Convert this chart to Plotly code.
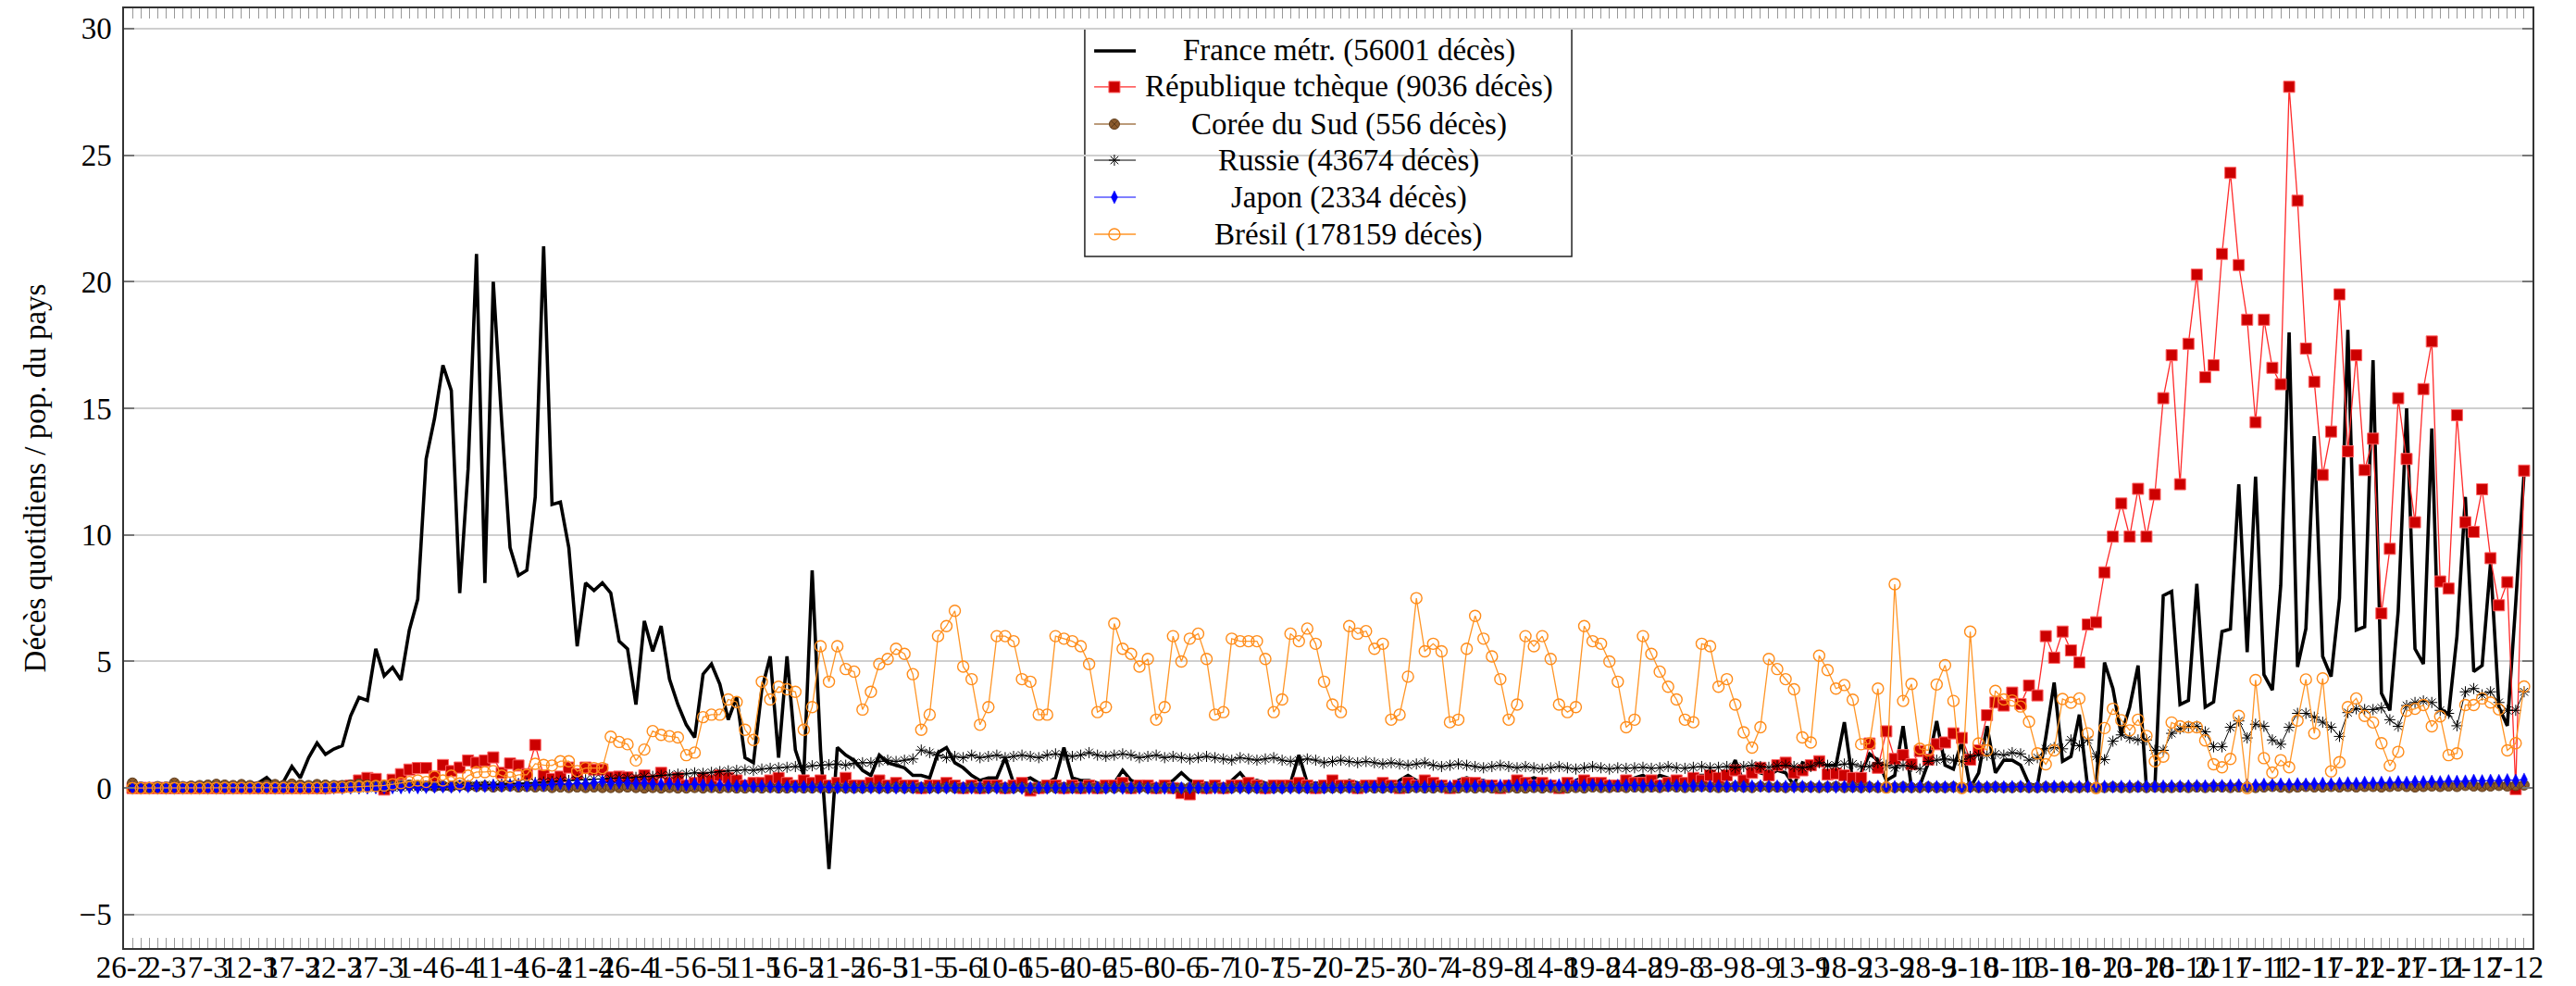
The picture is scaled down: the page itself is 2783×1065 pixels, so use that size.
import plotly.graph_objects as go

# ---- categories (day index; 0 = 26-2) and tick labels ----
days = list(range(1, 287))
tick_pos = list(range(0, 286, 5))
tick_labels = ["26-2", "2-3", "7-3", "12-3", "17-3", "22-3", "27-3", "1-4", "6-4", "11-4",
               "16-4", "21-4", "26-4", "1-5", "6-5", "11-5", "16-5", "21-5", "26-5", "31-5",
               "5-6", "10-6", "15-6", "20-6", "25-6", "30-6", "5-7", "10-7", "15-7", "20-7",
               "25-7", "30-7", "4-8", "9-8", "14-8", "19-8", "24-8", "29-8", "3-9", "8-9",
               "13-9", "18-9", "23-9", "28-9", "3-10", "8-10", "13-10", "18-10", "23-10", "28-10",
               "2-11", "7-11", "12-11", "17-11", "22-11", "27-11", "2-12", "7-12"]

france = [
    0, 0, 0, 0, 0, 0, 0, 0, 0.02, 0.02,
    0.03, 0.05, 0.05, 0.1, 0.15, 0.2, 0.42, 0.1, 0.25, 0.85,
    0.4, 1.2, 1.78, 1.33, 1.54, 1.67, 2.85, 3.58, 3.46, 5.5,
    4.43, 4.77, 4.27, 6.25, 7.46, 13.0, 14.6, 16.7, 15.7, 7.7,
    12.6, 21.1, 8.1, 20.0, 14.5, 9.5, 8.4, 8.6, 11.5, 21.4,
    11.2, 11.3, 9.5, 5.6, 8.1, 7.8, 8.1, 7.7, 5.8, 5.5,
    3.3, 6.6, 5.4, 6.4, 4.3, 3.3, 2.5, 2.0, 4.5, 4.9,
    4.1, 2.7, 3.6, 1.2, 1.0, 3.9, 5.2, 1.2, 5.2, 1.5,
    0.5, 8.6, 1.5, -3.2, 1.6, 1.3, 1.1, 0.7, 0.5, 1.3,
    1.0, 0.9, 0.8, 0.5, 0.5, 0.4, 1.4, 1.6, 1.0, 0.8,
    0.5, 0.3, 0.4, 0.4, 1.2, 0.2, 0.3, 0.4, 0.2, 0.2,
    0.4, 1.6, 0.4, 0.3, 0.3, 0.2, 0.1, 0.2, 0.7, 0.3,
    0.2, 0.2, 0.1, 0.1, 0.3, 0.6, 0.3, 0.2, 0.2, 0.1,
    0.0, 0.3, 0.6, 0.2, 0.3, 0.2, 0.1, 0.1, 0.2, 1.3,
    0.2, 0.2, 0.2, 0.0, 0.1, 0.3, 0.2, 0.2, 0.2, 0.1,
    0.0, 0.3, 0.5, 0.3, 0.2, 0.2, 0.1, 0.0, 0.3, 0.4,
    0.3, 0.3, 0.2, 0.1, 0.0, 0.3, 0.3, 0.4, 0.3, 0.2,
    0.1, 0.0, 0.3, 0.4, 0.3, 0.3, 0.2, 0.1, 0.0, 0.4,
    0.5, 0.3, 0.5, 0.4, 0.1, 0.1, 0.5, 0.5, 0.5, 0.4,
    0.4, 1.1, 0.2, 0.7, 0.6, 0.5, 0.7, 0.6, 0.1, 1.0,
    0.9, 0.9, 0.9, 0.9, 2.6, 0.25, 0.6, 1.35, 1.1, 0.3,
    0.5, 2.45, 0.0, 0.1, 1.0, 2.65, 0.9, 0.75, 1.85, 0.0,
    0.6, 2.45, 0.6, 1.1, 1.1, 0.9, 0.15, 0.1, 2.0, 4.17,
    1.06, 1.25, 2.9, 0.0, 0.0, 4.96, 3.93, 2.1, 3.2, 4.84,
    0.0, 0.0, 7.6, 7.77, 3.3, 3.46, 8.07, 3.2, 3.4, 6.18,
    6.28, 12.0, 5.37, 12.3, 4.48, 3.87, 8.0, 18.0, 4.78, 6.3,
    13.9, 5.2, 4.4, 7.5, 18.1, 6.24, 6.37, 16.9, 3.74, 3.07,
    7.0, 15.0, 5.5, 4.9, 14.2, 3.13, 2.9, 6.0, 11.5, 4.6,
    4.84, 8.9, 3.2, 2.46, 7.3, 12.46]

czech = [
    0, 0, 0, 0, 0, 0, 0, 0, 0, 0,
    0, 0, 0, 0, 0, 0, 0, 0, 0, 0,
    0, 0, 0, 0, 0.02, 0.05, 0.1, 0.3, 0.4, 0.36,
    -0.06, 0.33, 0.55, 0.73, 0.79, 0.79, 0.45, 0.91, 0.67, 0.81,
    1.09, 1.0, 1.09, 1.21, 0.6, 0.97, 0.89, 0.55, 1.7, 0.49,
    0.36, 0.45, 0.81, 0.55, 0.81, 0.73, 0.73, 0.42, 0.45, 0.42,
    0.3, 0.5, 0.3, 0.6, 0.2, 0.4, 0.1, 0.2, 0.4, 0.3,
    0.5, 0.4, 0.3, 0.1, 0.2, 0.2, 0.3, 0.4, 0.2, 0.1,
    0.3, 0.2, 0.3, 0.1, 0.2, 0.4, 0.1, 0.1, 0.2, 0.3,
    0.1, 0.2, 0.1, 0.1, 0.0, 0.1, 0.1, 0.2, 0.1, 0.0,
    0.1, 0.0, 0.1, 0.1, 0.0, 0.1, 0.2, -0.1, 0.0, 0.1,
    0.1, 0.0, 0.1, 0.0, 0.1, 0.0, 0.1, 0.1, 0.2, 0.0,
    0.1, 0.1, 0.0, 0.1, 0.0, -0.2, -0.25, 0.1, 0.0, 0.1,
    0.0, 0.1, 0.1, 0.2, 0.1, 0.0, 0.1, 0.1, 0.1, 0.2,
    0.1, 0.0, 0.1, 0.3, 0.1, 0.1, 0.0, 0.1, 0.1, 0.2,
    0.1, 0.0, 0.2, 0.1, 0.3, 0.2, 0.1, 0.0, 0.1, 0.2,
    0.2, 0.1, 0.1, 0.0, 0.1, 0.3, 0.2, 0.1, 0.2, 0.1,
    0.0, 0.2, 0.1, 0.3, 0.2, 0.2, 0.1, 0.1, 0.3, 0.2,
    0.2, 0.3, 0.1, 0.2, 0.3, 0.2, 0.4, 0.3, 0.5, 0.4,
    0.5, 0.7, 0.3, 0.6, 0.8, 0.5, 0.9, 1.0, 0.6, 0.7,
    0.9, 1.06, 0.54, 0.57, 0.5, 0.4, 0.4, 1.76, 0.8, 2.24,
    1.15, 1.3, 0.94, 1.46, 1.12, 1.73, 1.8, 2.16, 1.98, 1.12,
    1.49, 2.88, 3.38, 3.26, 3.77, 3.32, 4.05, 3.66, 6.0, 5.15,
    6.18, 5.44, 4.96, 6.46, 6.55, 8.52, 9.93, 11.24, 9.93, 11.82,
    9.93, 11.6, 15.4, 17.1, 12.0, 17.55, 20.28, 16.23, 16.7, 21.1,
    24.3, 20.66, 18.5, 14.45, 18.5, 16.6, 15.95, 27.7, 23.2, 17.36,
    16.05, 12.37, 14.08, 19.5, 13.3, 17.1, 12.56, 13.8, 6.9, 9.45,
    15.4, 13.0, 10.5, 15.76, 17.64, 8.16, 7.88, 14.73, 10.5, 10.12,
    11.8, 9.08, 7.22, 8.13, -0.04, 12.54]

korea = [
    0.2, 0.04, 0.02, 0.06, 0.04, 0.2, 0.06, 0.08, 0.1, 0.12,
    0.15, 0.12, 0.1, 0.14, 0.1, 0.06, 0.12, 0.14, 0.1, 0.16,
    0.12, 0.1, 0.14, 0.12, 0.1, 0.1, 0.12, 0.16, 0.12, 0.1,
    0.1, 0.08, 0.1, 0.12, 0.1, 0.08, 0.06, 0.08, 0.06, 0.1,
    0.08, 0.06, 0.08, 0.04, 0.06, 0.08, 0.04, 0.06, 0.04, 0.06,
    0.02, 0.04, 0.02, 0.04, 0.02, 0.04, 0.02, 0.02, 0.02, 0.04,
    0.02, 0.0, 0.02, 0.0, 0.02, 0.0, 0.0, 0.02, 0.0, 0.02,
    0.0, 0.02, 0.0, 0.0, 0.02, 0.0, 0.02, 0.0, 0.0, 0.02,
    0.0, 0.0, 0.02, 0.0, 0.02, 0.0, 0.0, 0.0, 0.02, 0.0,
    0.0, 0.02, 0.0, 0.0, 0.02, 0.0, 0.0, 0.02, 0.0, 0.0,
    0.02, 0.0, 0.0, 0.02, 0.0, 0.0, 0.02, 0.0, 0.02, 0.0,
    0.0, 0.02, 0.0, 0.0, 0.02, 0.0, 0.0, 0.0, 0.02, 0.0,
    0.02, 0.0, 0.0, 0.02, 0.0, 0.0, 0.02, 0.0, 0.0, 0.02,
    0.0, 0.0, 0.02, 0.0, 0.0, 0.02, 0.0, 0.0, 0.02, 0.0,
    0.0, 0.02, 0.0, 0.0, 0.0, 0.02, 0.0, 0.02, 0.0, 0.0,
    0.02, 0.0, 0.0, 0.02, 0.0, 0.0, 0.02, 0.0, 0.0, 0.02,
    0.0, 0.02, 0.0, 0.0, 0.02, 0.0, 0.0, 0.02, 0.0, 0.02,
    0.0, 0.0, 0.02, 0.0, 0.04, 0.02, 0.02, 0.04, 0.02, 0.04,
    0.02, 0.04, 0.02, 0.06, 0.04, 0.02, 0.04, 0.06, 0.04, 0.02,
    0.04, 0.06, 0.04, 0.02, 0.06, 0.04, 0.04, 0.02, 0.06, 0.04,
    0.04, 0.02, 0.04, 0.06, 0.02, 0.04, 0.02, 0.04, 0.02, 0.04,
    0.02, 0.04, 0.02, 0.02, 0.04, 0.02, 0.02, 0.04, 0.02, 0.04,
    0.02, 0.02, 0.04, 0.02, 0.02, 0.04, 0.02, 0.02, 0.04, 0.02,
    0.04, 0.02, 0.02, 0.04, 0.02, 0.02, 0.04, 0.02, 0.02, 0.04,
    0.02, 0.04, 0.02, 0.02, 0.04, 0.02, 0.04, 0.02, 0.04, 0.04,
    0.02, 0.04, 0.04, 0.02, 0.04, 0.06, 0.04, 0.02, 0.04, 0.06,
    0.04, 0.04, 0.06, 0.04, 0.06, 0.04, 0.06, 0.06, 0.04, 0.06,
    0.08, 0.06, 0.04, 0.06, 0.08, 0.06, 0.08, 0.06, 0.1, 0.08,
    0.06, 0.08, 0.1, 0.08, 0.1, 0.12]

russia = [
    0, 0, 0, 0, 0, 0, 0, 0, 0, 0,
    0, 0, 0, 0, 0, 0, 0, 0, 0, 0,
    0, 0, 0, 0, 0, 0, 0, 0, 0, 0.01,
    0.01, 0.02, 0.02, 0.03, 0.03, 0.04, 0.05, 0.05, 0.06, 0.08,
    0.09, 0.1, 0.12, 0.13, 0.15, 0.17, 0.18, 0.2, 0.22, 0.24,
    0.26, 0.28, 0.3, 0.32, 0.33, 0.35, 0.36, 0.38, 0.4, 0.4,
    0.42, 0.45, 0.46, 0.5, 0.52, 0.55, 0.56, 0.6, 0.58, 0.62,
    0.65, 0.68, 0.7, 0.72, 0.7, 0.75, 0.78, 0.8, 0.82, 0.85,
    0.82, 0.88, 0.9, 0.92, 0.95, 0.9, 0.98, 1.0, 1.0, 1.05,
    1.1, 1.05, 1.1, 1.15, 1.5, 1.4, 1.3, 1.2, 1.25, 1.2,
    1.3, 1.2, 1.25, 1.3, 1.2, 1.25, 1.3, 1.25, 1.2, 1.3,
    1.35, 1.3, 1.25, 1.3, 1.4, 1.3, 1.25, 1.3, 1.35, 1.3,
    1.2, 1.25, 1.3, 1.2, 1.25, 1.2, 1.15, 1.2, 1.25, 1.2,
    1.15, 1.1, 1.2, 1.15, 1.1, 1.15, 1.2, 1.1, 1.05, 1.1,
    1.15, 1.1, 1.0, 1.05, 1.1, 1.05, 1.0, 1.05, 1.0, 0.95,
    1.0, 0.95, 0.9, 0.95, 1.0, 0.9, 0.85, 0.9, 0.95, 0.9,
    0.85, 0.8, 0.85, 0.9, 0.85, 0.8, 0.85, 0.8, 0.75, 0.8,
    0.85, 0.8, 0.75, 0.8, 0.85, 0.8, 0.75, 0.8, 0.78, 0.8,
    0.82, 0.78, 0.8, 0.85, 0.8, 0.78, 0.82, 0.85, 0.8, 0.82,
    0.85, 0.8, 0.85, 0.9, 0.85, 0.82, 0.88, 0.9, 0.85, 0.8,
    0.85, 1.0, 0.9, 0.9, 0.95, 0.95, 0.85, 0.85, 1.0, 0.9,
    0.8, 0.9, 0.85, 0.75, 1.05, 1.1, 1.15, 1.1, 1.05, 1.25,
    1.3, 1.3, 1.35, 1.3, 1.4, 1.35, 1.1, 1.2, 1.55, 1.6,
    1.55, 1.9, 1.67, 1.9, 1.24, 1.12, 1.85, 2.1, 1.98, 1.9,
    1.9, 1.49, 1.49, 2.16, 2.34, 2.44, 2.44, 2.22, 1.63, 1.63,
    2.4, 2.65, 1.98, 2.52, 2.44, 1.9, 1.73, 2.4, 2.95, 2.95,
    2.8, 2.6, 2.4, 2.04, 2.98, 3.13, 3.1, 3.1, 3.17, 2.7,
    2.44, 3.26, 3.38, 3.44, 3.38, 3.07, 2.95, 2.46, 3.8, 3.93,
    3.68, 3.8, 3.38, 3.07, 3.07, 3.8]

japan = [
    0, 0, 0, 0, 0, 0, 0, 0, 0, 0,
    0, 0, 0, 0, 0, 0, 0, 0, 0, 0,
    0, 0, 0, 0, 0.01, 0, 0.01, 0.01, 0.01, 0.02,
    0.01, 0.02, 0.02, 0.03, 0.02, 0.03, 0.04, 0.05, 0.04, 0.06,
    0.06, 0.08, 0.07, 0.1, 0.08, 0.1, 0.12, 0.1, 0.14, 0.12,
    0.15, 0.18, 0.14, 0.2, 0.16, 0.2, 0.25, 0.18, 0.22, 0.2,
    0.18, 0.2, 0.16, 0.15, 0.18, 0.14, 0.12, 0.16, 0.12, 0.1,
    0.12, 0.1, 0.08, 0.1, 0.06, 0.08, 0.06, 0.05, 0.06, 0.04,
    0.05, 0.04, 0.03, 0.04, 0.02, 0.03, 0.02, 0.02, 0.02, 0.01,
    0.02, 0.01, 0.01, 0.02, 0.01, 0.01, 0.01, 0.01, 0.01, 0.01,
    0.01, 0.01, 0.01, 0.01, 0.01, 0.01, 0.0, 0.01, 0.01, 0.0,
    0.01, 0.0, 0.01, 0.01, 0.0, 0.01, 0.0, 0.01, 0.0, 0.01,
    0.01, 0.0, 0.01, 0.0, 0.01, 0.0, 0.01, 0.01, 0.0, 0.01,
    0.0, 0.01, 0.01, 0.0, 0.01, 0.0, 0.01, 0.0, 0.01, 0.01,
    0.01, 0.02, 0.01, 0.02, 0.02, 0.03, 0.02, 0.03, 0.04, 0.03,
    0.04, 0.05, 0.04, 0.06, 0.05, 0.06, 0.07, 0.06, 0.08, 0.07,
    0.08, 0.09, 0.08, 0.1, 0.09, 0.1, 0.12, 0.1, 0.09, 0.1,
    0.12, 0.1, 0.11, 0.1, 0.12, 0.1, 0.09, 0.1, 0.11, 0.1,
    0.09, 0.1, 0.08, 0.09, 0.1, 0.08, 0.09, 0.08, 0.07, 0.08,
    0.07, 0.08, 0.06, 0.07, 0.08, 0.06, 0.07, 0.06, 0.05, 0.06,
    0.05, 0.06, 0.05, 0.04, 0.06, 0.05, 0.04, 0.05, 0.06, 0.04,
    0.05, 0.04, 0.05, 0.06, 0.04, 0.05, 0.04, 0.05, 0.04, 0.05,
    0.06, 0.04, 0.05, 0.04, 0.05, 0.06, 0.05, 0.04, 0.05, 0.06,
    0.05, 0.06, 0.05, 0.06, 0.07, 0.06, 0.05, 0.06, 0.07, 0.06,
    0.07, 0.06, 0.07, 0.08, 0.07, 0.08, 0.09, 0.08, 0.1, 0.09,
    0.1, 0.12, 0.11, 0.12, 0.14, 0.13, 0.15, 0.14, 0.16, 0.15,
    0.17, 0.18, 0.16, 0.18, 0.2, 0.18, 0.22, 0.2, 0.22, 0.21,
    0.24, 0.22, 0.25, 0.24, 0.26, 0.24, 0.28, 0.26, 0.27, 0.3,
    0.28, 0.3, 0.29, 0.32, 0.3, 0.34]

bresil = [
    0, 0, 0, 0, 0, 0, 0, 0, 0, 0,
    0, 0, 0, 0, 0, 0, 0, 0, 0, 0,
    0.0, 0.0, 0.0, 0.01, 0.02, 0.02, 0.04, 0.05, 0.06, 0.08,
    0.1, 0.15, 0.2, 0.24, 0.3, 0.24, 0.45, 0.3, 0.49, 0.18,
    0.49, 0.63, 0.63, 0.67, 0.49, 0.42, 0.52, 0.52, 0.96, 0.91,
    0.89, 1.06, 1.06, 0.67, 0.79, 0.79, 0.79, 2.03, 1.82, 1.73,
    1.09, 1.52, 2.25, 2.1, 2.05, 2.0, 1.3, 1.4, 2.8, 2.9,
    2.9, 3.5, 3.4, 2.3, 1.9, 4.2, 3.5, 4.0, 3.9, 3.8,
    2.3, 3.2, 5.6, 4.2, 5.6, 4.7, 4.6, 3.1, 3.8, 4.9,
    5.1, 5.5, 5.3, 4.5, 2.3, 2.9, 6.0, 6.4, 7.0, 4.8,
    4.3, 2.5, 3.2, 6.0, 6.0, 5.8, 4.3, 4.2, 2.9, 2.9,
    6.0, 5.9, 5.8, 5.6, 4.9, 3.0, 3.2, 6.5, 5.5, 5.3,
    4.8, 5.1, 2.7, 3.2, 6.0, 5.0, 5.9, 6.1, 5.1, 2.9,
    3.0, 5.9, 5.8, 5.8, 5.8, 5.1, 3.0, 3.5, 6.1, 5.8,
    6.3, 5.7, 4.2, 3.3, 3.0, 6.4, 6.1, 6.2, 5.5, 5.7,
    2.7, 2.9, 4.4, 7.5, 5.4, 5.7, 5.4, 2.6, 2.7, 5.5,
    6.8, 5.9, 5.2, 4.3, 2.7, 3.3, 6.0, 5.6, 6.0, 5.1,
    3.3, 3.0, 3.2, 6.4, 5.8, 5.7, 5.0, 4.2, 2.4, 2.7,
    6.0, 5.3, 4.6, 4.0, 3.5, 2.7, 2.6, 5.7, 5.6, 4.0,
    4.3, 3.3, 2.2, 1.6, 2.4, 5.1, 4.7, 4.3, 3.9, 2.0,
    1.8, 5.23, 4.66, 3.93, 4.07, 3.49, 1.73, 1.76, 3.93, 0.02,
    8.05, 3.44, 4.11, 1.55, 1.49, 4.09, 4.85, 3.44, 0.0, 6.18,
    1.76, 1.49, 3.84, 3.5, 3.46, 3.22, 2.62, 1.37, 0.94, 1.49,
    3.52, 3.37, 3.54, 2.16, 0.0, 2.37, 3.13, 2.68, 2.28, 2.7,
    2.06, 1.06, 1.24, 2.59, 2.44, 2.4, 2.4, 1.88, 0.94, 0.82,
    1.15, 2.85, 0.0, 4.27, 1.18, 0.61, 1.1, 0.82, 2.67, 4.29,
    2.16, 4.33, 0.66, 1.02, 3.2, 3.54, 2.85, 2.59, 1.77, 0.88,
    1.43, 3.05, 3.13, 3.28, 2.44, 2.83, 1.3, 1.37, 3.28, 3.28,
    3.54, 3.38, 3.11, 1.49, 1.77, 4.01]

names = ["France métr. (56001 décès)", "République tchèque (9036 décès)",
         "Corée du Sud (556 décès)", "Russie (43674 décès)",
         "Japon (2334 décès)", "Brésil (178159 décès)"]
values = [france, czech, korea, russia, japan, bresil]

lines = [dict(color="black", width=3.6),
         dict(color="#ff2a2a", width=1.3),
         dict(color="#a47a4e", width=1.5),
         dict(color="black", width=1),
         dict(color="#0000ff", width=1.2),
         dict(color="#ff9526", width=1.3)]
markers = [None,
           dict(symbol="square", size=12, color="#cc0000", line=dict(color="#ff6060", width=1)),
           dict(symbol="circle-x", size=11, color="#8a5a2c", line=dict(color="#5e3b1a", width=1)),
           dict(symbol="asterisk-open", size=10, color="black", line=dict(color="black", width=1)),
           dict(symbol="diamond-tall", size=10, color="#0000ff", line=dict(color="#0000ff", width=0.5)),
           dict(symbol="circle-open", size=12, color="#ff8c1a", line=dict(color="#ff8c1a", width=1.4))]

FONT = "Liberation Serif, Times New Roman, serif"
FS = 33

fig = go.Figure()
for name, vals, line, marker in zip(names, values, lines, markers):
    if marker is None:
        fig.add_trace(go.Scatter(x=days, y=vals, mode="lines", name=name, line=line,
                                 showlegend=False))
    else:
        fig.add_trace(go.Scatter(x=days, y=vals, mode="lines+markers", name=name,
                                 line=line, marker=marker, showlegend=False))

# ---- legend drawn as a framed box (paper coordinates) ----
leg_x0, leg_x1, leg_y0, leg_y1 = 0.3989, 0.6011, 0.7360, 0.9783
row_y = [0.9547, 0.9163, 0.8768, 0.8384, 0.7990, 0.7596]
samp_x0, samp_x1, samp_xm, text_x = 0.4028, 0.4201, 0.4112, 0.5085

fig.add_shape(type="rect", xref="paper", yref="paper", x0=leg_x0, x1=leg_x1, y0=leg_y0, y1=leg_y1,
              line=dict(color="#222222", width=1.5), fillcolor="white", layer="between")
for name, line, marker, ry in zip(names, lines, markers, row_y):
    fig.add_trace(go.Scatter(x=[samp_x0, samp_x1], y=[ry, ry], mode="lines", line=line,
                             xaxis="x2", yaxis="y2", showlegend=False, hoverinfo="skip"))
    if marker is not None:
        fig.add_trace(go.Scatter(x=[samp_xm], y=[ry], mode="markers", marker=marker,
                                 xaxis="x2", yaxis="y2", showlegend=False, hoverinfo="skip"))
    fig.add_annotation(text=name, xref="paper", yref="paper", x=text_x, y=ry,
                       xanchor="center", yanchor="middle", showarrow=False,
                       font=dict(family=FONT, size=FS, color="black"))

fig.update_layout(
    width=2783, height=1065, autosize=False,
    margin=dict(l=134, r=47, t=9, b=41, autoexpand=False),
    paper_bgcolor="white", plot_bgcolor="white",
    font=dict(family=FONT, size=FS, color="black"),
    showlegend=False,
    xaxis2=dict(range=[0, 1], overlaying="x", visible=False, anchor="y2"),
    yaxis2=dict(range=[0, 1], overlaying="y", visible=False, anchor="x2"),
)
fig.layout.xaxis.update(
    range=[0, 287], tickmode="array", tickvals=tick_pos, ticktext=tick_labels,
    tickangle=0, ticks="inside", ticklen=11, tickwidth=1, tickcolor="#999999",
    minor=dict(dtick=1, tick0=0, ticks="inside", ticklen=11, tickwidth=1, tickcolor="#999999",
               showgrid=False),
    showgrid=False, zeroline=False, showline=True, linecolor="#333333", linewidth=1.5,
    mirror="allticks", tickfont=dict(family=FONT, size=33), ticklabelstandoff=-9,
)
fig.layout.yaxis.update(
    range=[-6.32, 30.8], tickmode="linear", tick0=0, dtick=5,
    ticks="inside", ticklen=11, tickwidth=1.5, tickcolor="#777777",
    showgrid=True, gridcolor="#cfcfcf", gridwidth=1.5, zeroline=False,
    showline=True, linecolor="#333333", linewidth=1.5, mirror="allticks",
    tickfont=dict(family=FONT, size=FS), ticklabelstandoff=5,
    title=dict(text="Décès quotidiens / pop. du pays", font=dict(family=FONT, size=FS), standoff=26),
)

fig.write_html("out.html", config={"displayModeBar": False},
               post_script="document.body.style.margin='0';document.body.style.overflow='hidden';")
